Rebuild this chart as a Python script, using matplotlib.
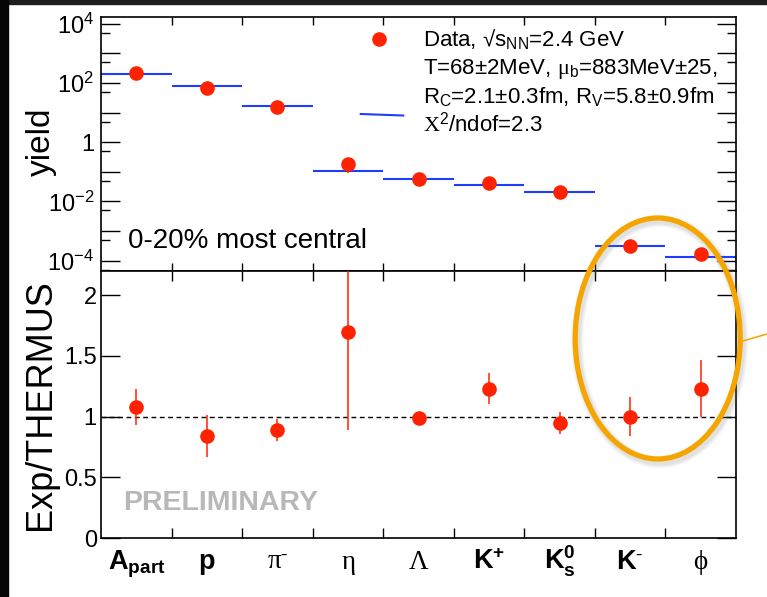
import matplotlib
matplotlib.use('Agg')
import matplotlib.pyplot as plt
import matplotlib.transforms as mtransforms
import numpy as np
from matplotlib.patches import Ellipse, Rectangle
from matplotlib.lines import Line2D
from matplotlib.ticker import FixedLocator, FixedFormatter, NullFormatter

plt.rcParams['font.family'] = ['Liberation Sans', 'DejaVu Sans']
plt.rcParams['mathtext.fontset'] = 'custom'
plt.rcParams['mathtext.rm'] = 'Liberation Serif'
plt.rcParams['mathtext.it'] = 'Liberation Serif:italic'
plt.rcParams['mathtext.bf'] = 'Liberation Sans:bold'
plt.rcParams['mathtext.sf'] = 'Liberation Sans'
plt.rcParams['mathtext.fallback'] = 'stix'

# data
particles = [r'$\mathbf{A_{part}}$', r'$\mathbf{p}$', r'$\mathrm{\pi}^{\mathbf{\text{-}}}$', r'$\mathrm{\eta}$',
             r'$\mathrm{\Lambda}$', r'$\mathbf{K^{+}}$', r'$\mathbf{K^{0}_{s}}$', r'$\mathbf{K}^{\mathbf{\text{-}}}$',
             r'$\mathrm{\phi}$']
yield_data = [210, 69, 15, 0.18, 0.057, 0.043, 0.0203, 3.1e-4, 1.65e-4]
yield_err = [20, 10, 1.5, 0.085, 0.002, 0.004, 0.002, 0.5e-4, 0.3e-4]
yield_model = [195, 82, 17, 0.106, 0.058, 0.0354, 0.0216, 3.1e-4, 1.35e-4]
ratio = [1.08, 0.84, 0.89, 1.70, 0.985, 1.23, 0.945, 1.0, 1.23]
ratio_err = [0.15, 0.17, 0.09, 0.81, 0.03, 0.13, 0.09, 0.16, 0.235]

ytick_vals = [1e-4, 1e-3, 1e-2, 1e-1, 1, 1e1, 1e2, 1e3, 1e4]
ytick_labels = [r'$\mathsf{10^{-4}}$', '', r'$\mathsf{10^{-2}}$', '', '1', '', r'$\mathsf{10^{2}}$', '', r'$\mathsf{10^{4}}$']
ytick_minor = [5e-5, 5e-4, 5e-3, 5e-2, 0.5, 5, 50, 500, 5000]
rtick_vals = [0, 0.5, 1, 1.5, 2]
rtick_labels = ['0', '0.5', '1', '1.5', '2']

legend_lines = [r'Data, √s$_{\mathsf{NN}}$=2.4 GeV',
                r'T=68±2MeV, $\mathrm{\mu}_{\mathsf{b}}$=883MeV±25,',
                r'R$_{\mathsf{C}}$=2.1±0.3fm, R$_{\mathsf{V}}$=5.8±0.9fm',
                r'$\mathrm{X}^{\mathsf{2}}$/ndof=2.3']

red = '#ff2200'
blue = '#1f3cff'

n = len(particles)
xc = np.arange(n) + 0.5
edges = np.arange(n + 1)

fig = plt.figure(figsize=(7.67, 5.97), dpi=100)
fig.patch.set_facecolor('white')
ax1 = fig.add_axes([0.1317, 0.5461, 0.8279, 0.4255])
ax2 = fig.add_axes([0.1317, 0.0988, 0.8279, 0.4473])

# upper panel - yields
ax1.set_yscale('log')
ax1.set_xlim(0, n)
ax1.set_ylim(4.5e-5, 1.7e4)
ax1.hlines(yield_model, edges[:-1], edges[1:], color=blue, lw=1.5, zorder=2)
ax1.errorbar(xc, yield_data, yerr=yield_err, fmt='o', color=red, ms=9.5,
             elinewidth=1.1, capsize=0, zorder=3)
ax1.yaxis.set_major_locator(FixedLocator(ytick_vals))
ax1.yaxis.set_major_formatter(FixedFormatter(ytick_labels))
ax1.yaxis.set_minor_locator(FixedLocator(ytick_minor))
ax1.yaxis.set_minor_formatter(NullFormatter())
ax1.tick_params(axis='y', which='major', direction='in', length=13.5, width=1,
                left=True, right=True, labelsize=17, pad=5)
ax1.tick_params(axis='y', which='minor', direction='in', length=6.7, width=1,
                left=True, right=True)
ax1.set_xticks(edges[1:-1])
ax1.tick_params(axis='x', direction='in', length=6, width=1, top=True, bottom=True,
                labelbottom=False)
for s in ax1.spines.values():
    s.set_linewidth(1.2)

ax1.text(0.043, 0.09, '0-20% most central', transform=ax1.transAxes, fontsize=20,
         va='baseline', ha='left')

# legend
ax1.plot([0.438], [0.913], 'o', color=red, ms=9.5, transform=ax1.transAxes, clip_on=False)
ax1.plot([0.409, 0.476], [0.618, 0.612], color=blue, lw=1.5, transform=ax1.transAxes)
for i, line in enumerate(legend_lines):
    ax1.text(0.507, [0.886, 0.776, 0.661, 0.551][i], line, transform=ax1.transAxes,
             fontsize=16, va='baseline', ha='left')

fig.text(0.054, 0.763, 'yield', rotation=90, fontsize=24, ha='center', va='center')

# lower panel - ratio
ax2.set_xlim(0, n)
ax2.set_ylim(0, 2.2)
ax2.axhline(1, color='black', lw=1, ls=(0, (3.5, 2.5)), zorder=1)
ax2.errorbar(xc, ratio, yerr=ratio_err, fmt='o', color=red, ms=9.5,
             elinewidth=1.1, capsize=0, zorder=3)
ax2.set_yticks(rtick_vals)
ax2.set_yticklabels(rtick_labels)
ax2.tick_params(axis='y', direction='in', length=13.5, width=1, left=True, right=True,
                labelsize=17, pad=3)
ax2.set_xticks(edges[1:-1])
ax2.tick_params(axis='x', direction='in', length=7, width=1, top=True, bottom=True,
                labelbottom=False)
for s in ax2.spines.values():
    s.set_linewidth(1.2)

trans = mtransforms.blended_transform_factory(ax2.transData, ax2.transAxes)
for x, lab in zip(xc, particles):
    ax2.text(x, -0.117, lab, transform=trans, ha='center', va='baseline', fontsize=19.5)

ax2.text(0.31, 0.29, 'PRELIMINARY', fontsize=20.5, fontweight='bold', color='#b8b8b8',
         ha='left', va='center')

fig.text(0.053, 0.322, 'Exp/THERMUS', rotation=90, fontsize=26, ha='center', va='center')

# dark frame edges
fig.patches.append(Rectangle((0, 1 - 4 / 597), 1, 4 / 597, transform=fig.transFigure,
                             color='#1e1e1e', zorder=0))
fig.patches.append(Rectangle((0, 0), 8 / 767, 1, transform=fig.transFigure,
                             color='#050505', zorder=0))

# orange highlight ellipse with soft shadow
ecx, ecy = 657.7 / 767, 1 - 338.5 / 597
ew, eh = 165 / 767, 241 / 597
for lw, a in [(9, 0.06), (7, 0.08), (5, 0.1)]:
    fig.patches.append(Ellipse((ecx + 2 / 767, ecy - 3 / 597), ew, eh, transform=fig.transFigure,
                               fill=False, ec='gray', lw=lw, alpha=a, zorder=5))
fig.patches.append(Ellipse((ecx, ecy), ew, eh, transform=fig.transFigure, fill=False,
                           ec='#f5a500', lw=3.8, zorder=6))
fig.lines.append(Line2D([743 / 767, 1.0], [1 - 341 / 597, 1 - 334 / 597],
                        transform=fig.transFigure, color='#f5a500', lw=1.1, zorder=6))

fig.savefig('out.png', dpi=100)
